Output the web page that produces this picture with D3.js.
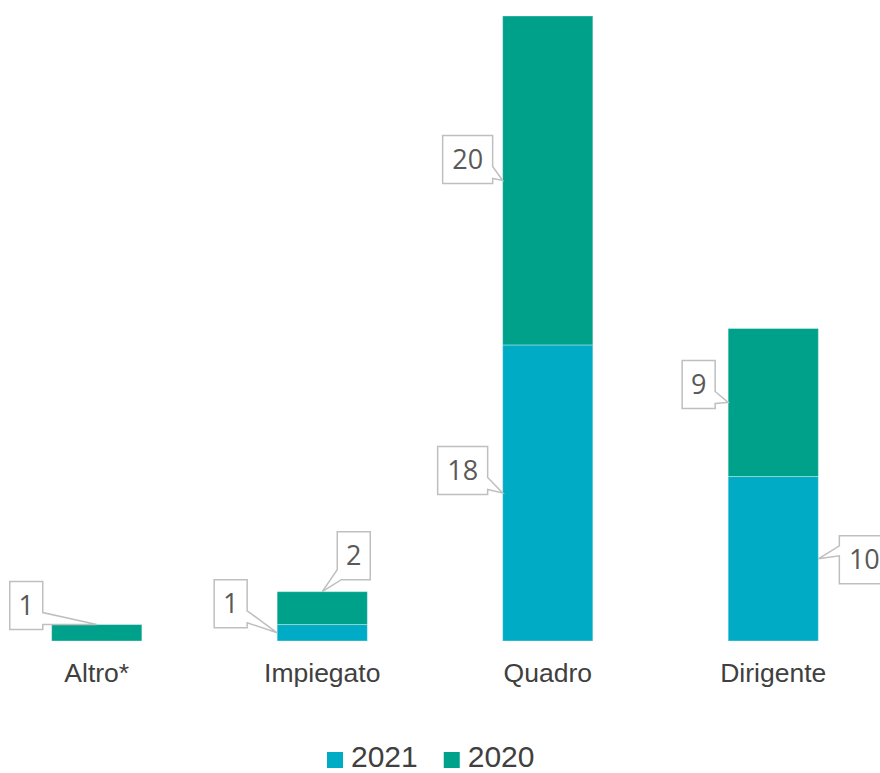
<!DOCTYPE html>
<html>
<head>
<meta charset="utf-8">
<script src="https://cdn.jsdelivr.net/npm/d3@7"></script>
<style>
  html, body { margin: 0; padding: 0; background: #ffffff; }
  svg { display: block; }
</style>
</head>
<body>
<svg id="chart" width="880" height="773"></svg>
<script>
// ---- data ----
const categories = ["Altro*", "Impiegato", "Quadro", "Dirigente"];
const seriesNames = ["2021", "2020"];
const values2021 = [0, 1, 18, 10];
const values2020 = [1, 2, 20, 9];

// ---- styles / layout ----
const colors = { "2021": "#00ACC5", "2020": "#00A18B" };
const W = 880, H = 773;
const baseY = 641, topY = 16;

// label layout (per series, per category): side of tail, anchor, box offsets relative to tip
const labelLayout = {
  "2021": [
    null,
    { anchor: "left", side: "right", gap: 30, dy: -5 },
    { anchor: "left", side: "right", gap: 15, dy: 1.5 },
    { anchor: "right", side: "left", gap: 21, dy: 25 }
  ],
  "2020": [
    { anchor: "top", side: "right", gap: 54, dy: 5 },
    { anchor: "top", side: "leftcorner", gap: 15, dy: -12 },
    { anchor: "left", side: "right", gap: 10, dy: 3 },
    { anchor: "left", side: "right", gap: 13, dy: 6 }
  ]
};

const svg = d3.select("#chart");

const x = d3.scaleBand().domain(categories).range([-16, 886]).paddingInner(0.6).paddingOuter(0.3);
const y = d3.scaleLinear().domain([0, 38]).range([baseY, topY]);

const rows = categories.map((c, i) => ({ cat: c, "2021": values2021[i], "2020": values2020[i] }));
const stack = d3.stack().keys(seriesNames)(rows);

// bars
const g = svg.append("g");
stack.forEach(layer => {
  g.append("g").selectAll("rect")
    .data(layer.filter(d => d[1] - d[0] > 0))
    .join("rect")
    .attr("x", d => x(d.data.cat))
    .attr("width", x.bandwidth())
    .attr("y", d => y(d[1]))
    .attr("height", d => y(d[0]) - y(d[1]))
    .attr("fill", colors[layer.key])
    .attr("stroke", "rgba(255,255,255,0.35)")
    .attr("stroke-width", 1);
});

// category axis labels
const xAxis = d3.axisBottom(x).tickSize(0).tickPadding(0);
const ax = svg.append("g").attr("transform", `translate(0, ${baseY})`).call(xAxis);
ax.select(".domain").remove();
ax.selectAll("text")
  .attr("dy", null)
  .attr("y", 41)
  .attr("font-family", "'Liberation Sans', Arial, sans-serif")
  .attr("font-size", 26.5)
  .attr("fill", "#404040");

// callouts
const lg = svg.append("g");
stack.forEach(layer => {
  const key = layer.key;
  layer.forEach((d, i) => {
    const L = labelLayout[key][i];
    const v = d[1] - d[0];
    if (!L || v <= 0) return;
    const bx0 = x(d.data.cat), bx1 = bx0 + x.bandwidth();
    let tx, ty;
    if (L.anchor === "top") { tx = bx0 + x.bandwidth() / 2; ty = y(d[1]); }
    else if (L.anchor === "left") { tx = bx0; ty = (y(d[0]) + y(d[1])) / 2; }
    else { tx = bx1; ty = (y(d[0]) + y(d[1])) / 2; }
    const label = String(v);
    const bw = label.length > 1 ? 50 : 33;
    const bh = 48;
    let px, py, path;
    if (L.side === "right") {
      px = tx - L.gap - bw; py = ty + L.dy - bh;
      const ya = py + bh - 17, yb = py + bh - 5;
      path = `M${px},${py}H${px + bw}V${ya}L${tx},${ty}L${px + bw},${yb}V${py + bh}H${px}Z`;
    } else if (L.side === "left") {
      px = tx + L.gap; py = ty + L.dy - bh;
      const ya = ty - 13, yb = ty - 3;
      path = `M${px},${py}H${px + bw}V${py + bh}H${px}V${yb}L${tx},${ty}L${px},${ya}Z`;
    } else {
      px = tx + L.gap; py = ty + L.dy - bh;
      path = `M${px},${py}H${px + bw}V${py + bh}H${px + 4}L${tx},${ty}L${px},${py + bh - 10}Z`;
    }
    lg.append("path")
      .attr("d", path)
      .attr("fill", "#ffffff")
      .attr("stroke", "#BFBFBF")
      .attr("stroke-width", 1.5)
      .attr("stroke-linejoin", "miter");
    lg.append("text")
      .attr("x", px + bw / 2)
      .attr("y", py + bh / 2)
      .attr("dy", "0.36em")
      .attr("text-anchor", "middle")
      .attr("font-family", "'Open Sans', 'Noto Sans', sans-serif")
      .attr("font-size", 27)
      .attr("fill", "#595959")
      .text(label);
  });
});

// legend
const leg = svg.append("g");
const legFont = 30, sq = 16, legY = 767;
let cx = 327;
seriesNames.forEach(s => {
  leg.append("rect").attr("x", cx).attr("y", legY - sq + 1).attr("width", sq).attr("height", sq).attr("fill", colors[s]);
  const t = leg.append("text")
    .attr("x", cx + sq + 8)
    .attr("y", legY)
    .attr("font-family", "'Liberation Sans', Arial, sans-serif")
    .attr("font-size", legFont)
    .attr("fill", "#404040")
    .text(s);
  cx = cx + sq + 8 + t.node().getComputedTextLength() + 26;
});
</script>
</body>
</html>
